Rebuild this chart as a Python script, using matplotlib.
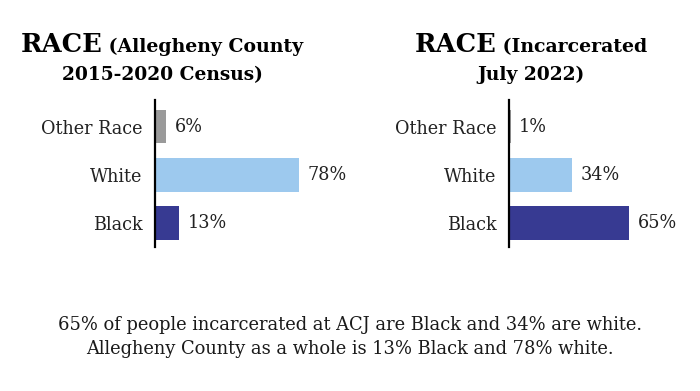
import matplotlib
matplotlib.use("Agg")
import matplotlib.pyplot as plt

categories = ["Black", "White", "Other Race"]
county_pct = [13, 78, 6]
jail_pct = [65, 34, 1]
bar_colors = ["#373a92", "#9dc9ee", "#9a9a9a"]

titles = [("RACE", "(Allegheny County", "2015-2020 Census)"),
          ("RACE", "(Incarcerated", "July 2022)")]
note = ("65% of people incarcerated at ACJ are Black and 34% are white.\n"
        "Allegheny County as a whole is 13% Black and 78% white.")

W, H = 700, 391
fig = plt.figure(figsize=(W / 100, H / 100), dpi=100)
serif = "DejaVu Serif"


def px_axes(x0, y_top, w, h):
    return fig.add_axes([x0 / W, (H - y_top - h) / H, w / W, h / H])


def draw_panel(x_axis, values):
    ax = px_axes(x_axis, 100, 185, 147)
    ax.barh(range(len(categories)), values, height=0.7, color=bar_colors)
    ax.set_xlim(0, 100)
    ax.set_ylim(-0.5, 2.55)
    for s in ["top", "right", "bottom"]:
        ax.spines[s].set_visible(False)
    ax.spines["left"].set_linewidth(1.6)
    ax.spines["left"].set_color("black")
    ax.set_xticks([])
    ax.set_yticks(range(len(categories)))
    ax.set_yticklabels(categories, family=serif, fontsize=12.7, color="#222222")
    ax.tick_params(axis="y", length=0, pad=9)
    for i, v in enumerate(values):
        ax.annotate(f"{v}%", (v, i), xytext=(6, 0), textcoords="offset points",
                    va="center", ha="left", family=serif, fontsize=12.7,
                    color="#222222")
    return ax


draw_panel(155, county_pct)
draw_panel(509, jail_pct)

fig.canvas.draw()
renderer = fig.canvas.get_renderer()


def title(cx, big, small, line2):
    # first line: big bold word + smaller bold text, centred together
    y1 = 1 - 52 / H
    t1 = fig.text(0, y1, big, family=serif, fontweight="bold", fontsize=18.5,
                  va="baseline", ha="left")
    t2 = fig.text(0, y1, " " + small, family=serif, fontweight="bold",
                  fontsize=13.6, va="baseline", ha="left")
    w1 = t1.get_window_extent(renderer).width
    w2 = t2.get_window_extent(renderer).width
    left = cx - (w1 + w2) / 2
    t1.set_x(left / W)
    t2.set_x((left + w1) / W)
    fig.text(cx / W, 1 - 80 / H, line2, family=serif, fontweight="bold",
             fontsize=13.4, va="baseline", ha="center")


title(162, *titles[0])
title(531, *titles[1])

fig.text(0.5, 1 - 337 / H, note, ha="center", va="center", family=serif,
         fontsize=12.9, color="#1a1a1a", linespacing=1.45)

fig.savefig("out.png", dpi=100)
